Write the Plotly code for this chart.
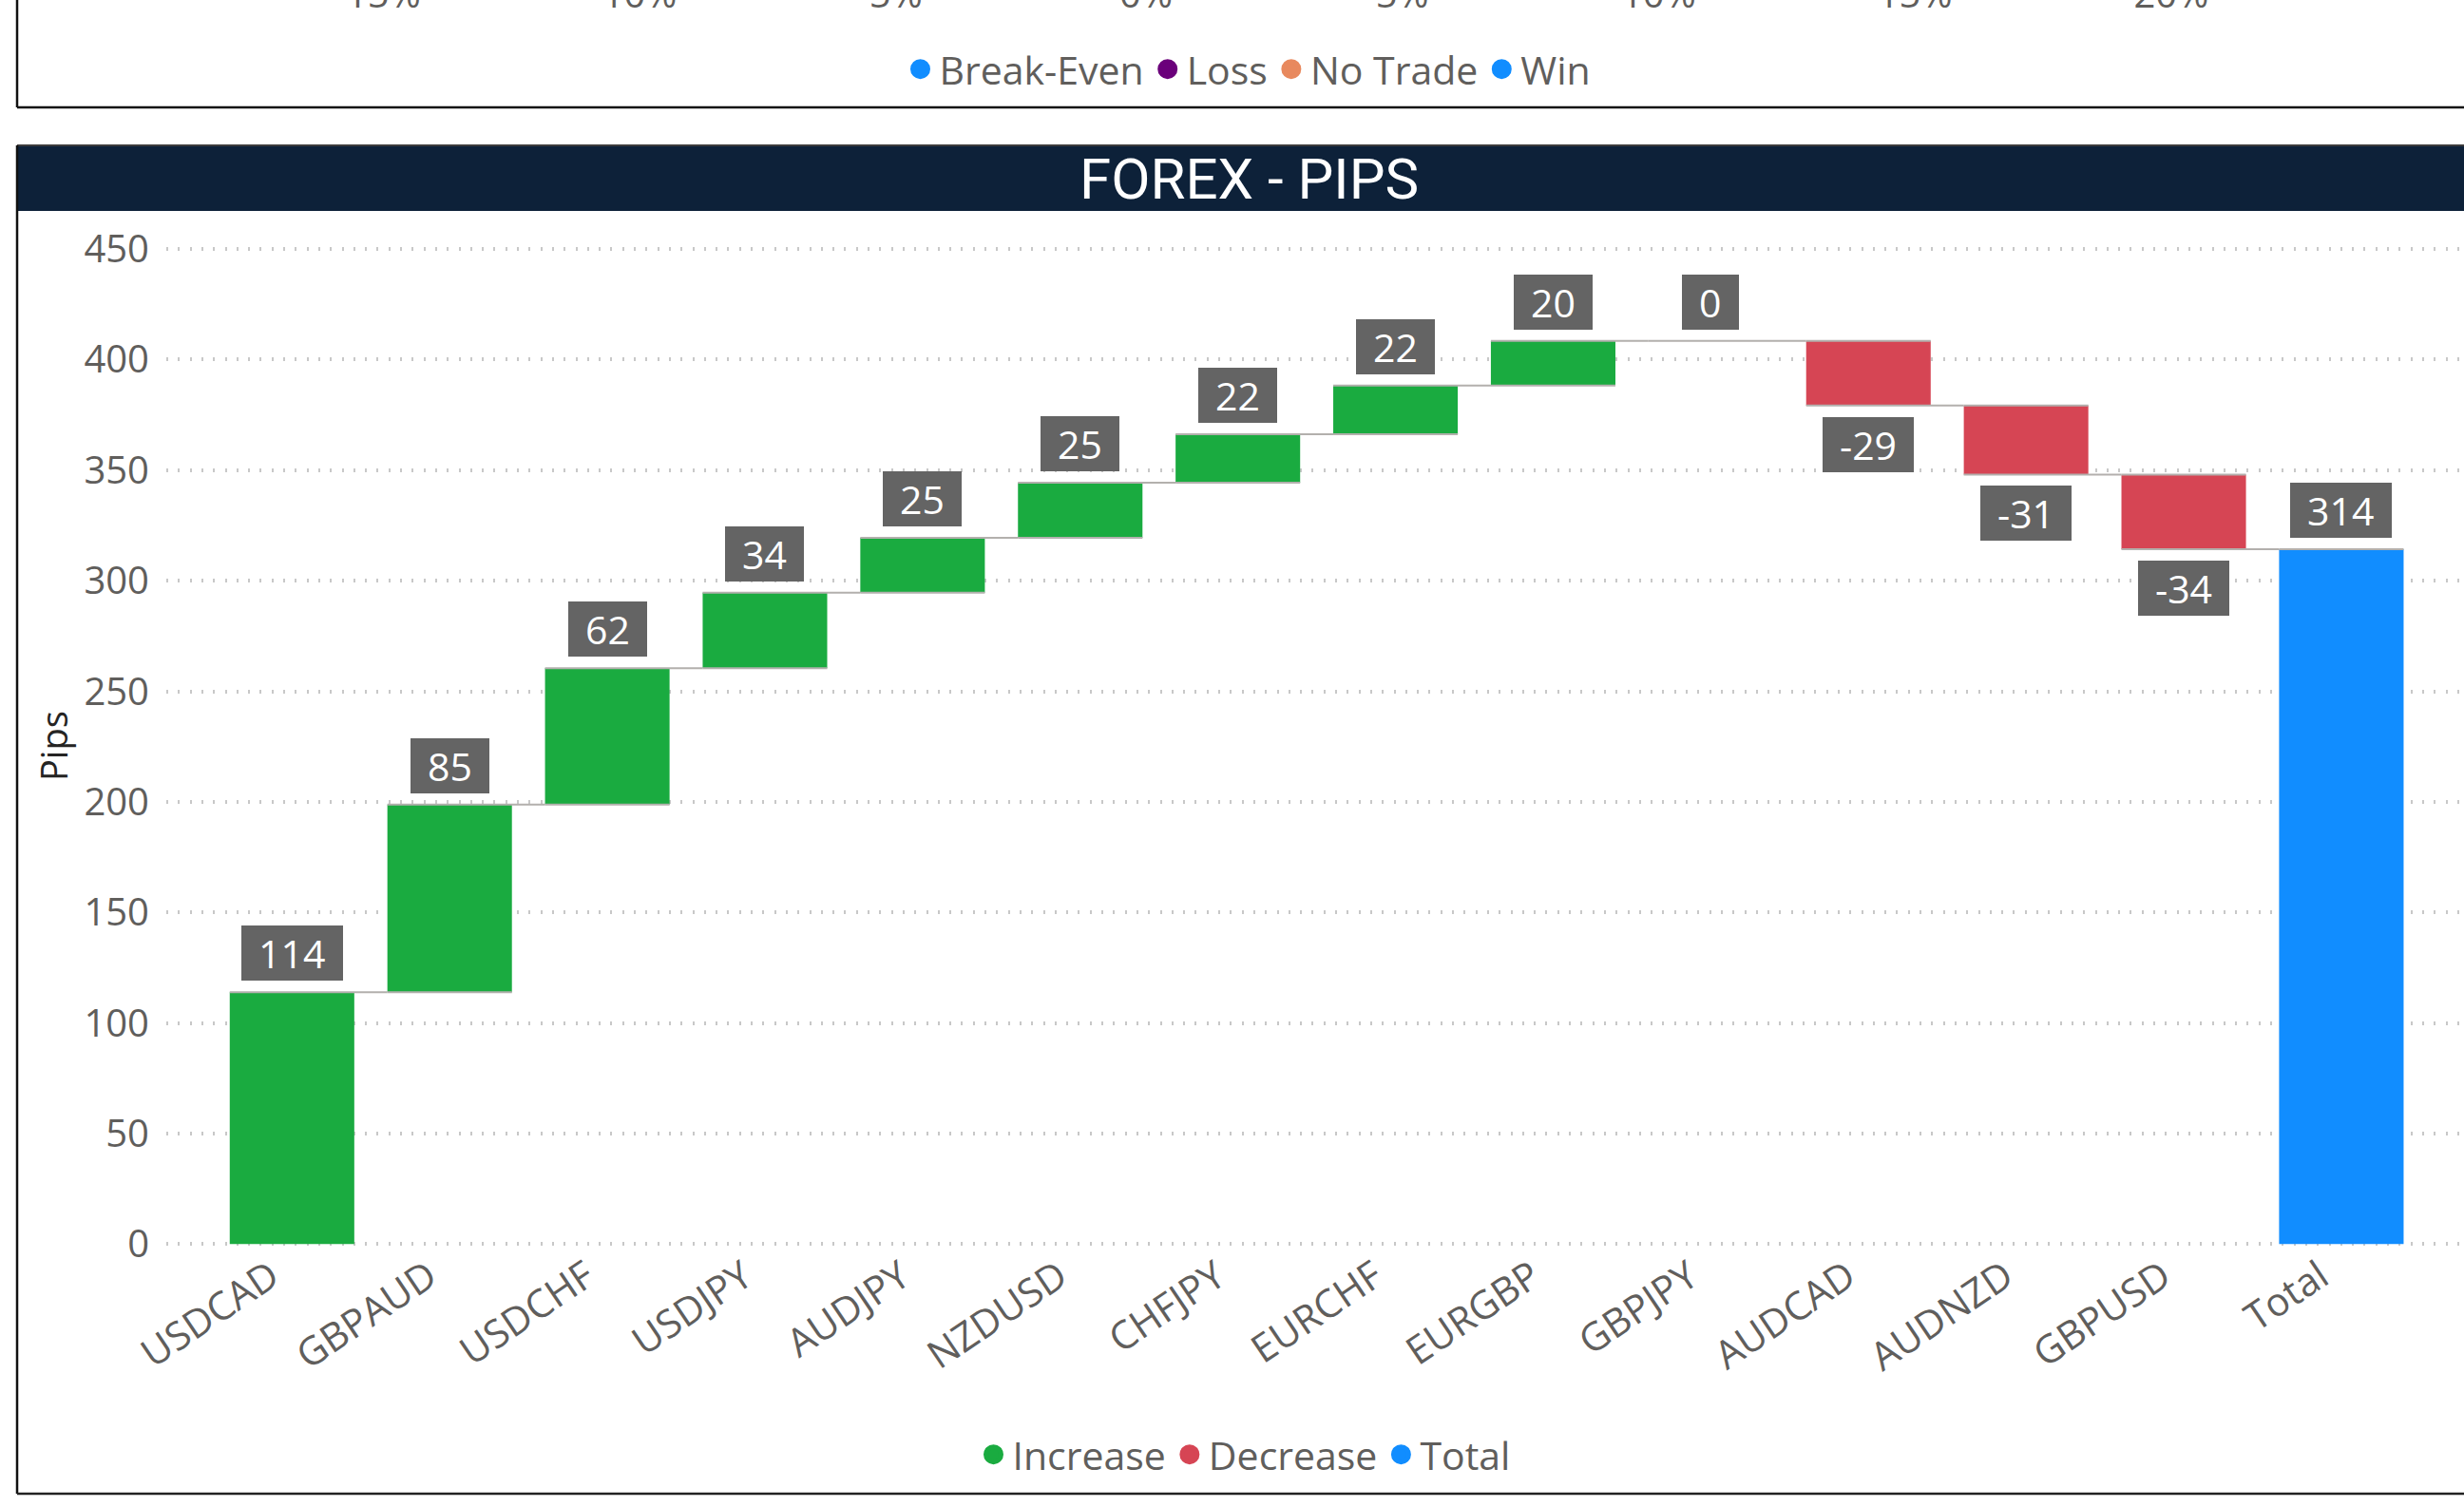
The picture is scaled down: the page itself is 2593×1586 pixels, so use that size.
import plotly.graph_objects as go

# waterfall data: pips won/lost per pair
pairs = ["USDCAD", "GBPAUD", "USDCHF", "USDJPY", "AUDJPY", "NZDUSD", "CHFJPY",
         "EURCHF", "EURGBP", "GBPJPY", "AUDCAD", "AUDNZD", "GBPUSD", "Total"]
pips = [113.9, 84.9, 61.6, 34.2, 24.8, 24.9, 22.0, 22.0, 20.2, 0.0, -29.3, -31.2, -33.8, 314.2]
measures = ["relative"] * 13 + ["total"]
y_ticks = [0, 50, 100, 150, 200, 250, 300, 350, 400, 450]

wf_names = ["Increase", "Decrease", "Total"]
wf_colors = ["#1AAB40", "#D64554", "#118DFF"]

# upper panel (cut off by the screenshot): legend and percent ticks
outcome_names = ["Break-Even", "Loss", "No Trade", "Win"]
outcome_colors = ["#118DFF", "#6B007B", "#E8895E", "#118DFF"]
pct_ticks = [-15, -10, -5, 0, 5, 10, 15, 20, 25]
pct_labels = ["-15%", "-10%", "-5%", "0%", "5%", "10%", "15%", "20%", "25%"]

W, H = 2593, 1586
FONT = "Open Sans"
GREY = "#605E5C"


def px(x):
    return x / W


def py(y):
    return 1 - y / H


fig = go.Figure()

fig.add_trace(go.Waterfall(
    x=pairs, y=pips, measure=measures,
    increasing=dict(marker=dict(color=wf_colors[0])),
    decreasing=dict(marker=dict(color=wf_colors[1])),
    totals=dict(marker=dict(color=wf_colors[2])),
    connector=dict(mode="spanning", line=dict(color="#B3B0AD", width=2)),
    textinfo="none", showlegend=False,
))

# legend entries (circle markers like Power BI)
for name, col in zip(wf_names, wf_colors):
    fig.add_trace(go.Scatter(x=[None], y=[None], mode="markers", name=name,
                             marker=dict(color=col, size=16, line=dict(color=col, width=5)),
                             legend="legend"))
for name, col in zip(outcome_names, outcome_colors):
    fig.add_trace(go.Scatter(x=[None], y=[None], mode="markers", name=name,
                             xaxis="x2", yaxis="y2",
                             marker=dict(color=col, size=16, line=dict(color=col, width=5)),
                             legend="legend2"))

# data labels in dark boxes
running = 0
for p, v, m in zip(pairs, pips, measures):
    if m != "total":
        running += v
    lab = str(round(v))
    up = v >= 0
    w = 23.5 * sum(c.isdigit() for c in lab) + 13 * lab.count("-") + 36
    fig.add_annotation(x=p, y=running, xref="x", yref="y", text=lab, showarrow=False,
                       yanchor="bottom" if up else "top", yshift=12 if up else -12,
                       bgcolor="#646464", borderpad=0, borderwidth=0, width=w, height=58,
                       font=dict(family=FONT, size=41, color="white"))

# header + titles
fig.add_annotation(x=px(1314), y=py(188), xref="paper", yref="paper", text="FOREX - PIPS",
                   showarrow=False, xanchor="center", yanchor="middle",
                   font=dict(family="Roboto", size=60, color="white"))
fig.add_annotation(x=px(56), y=py(785), xref="paper", yref="paper", text="Pips",
                   showarrow=False, textangle=-90, xanchor="center", yanchor="middle",
                   font=dict(family=FONT, size=38, color="#252423"))

shapes = [
    dict(type="rect", xref="paper", yref="paper", x0=px(18), x1=1.01, y0=py(222), y1=py(153),
         fillcolor="#0D2139", line=dict(width=0), layer="below"),
    dict(type="line", xref="paper", yref="paper", x0=px(18), x1=1.01, y0=py(153), y1=py(153),
         line=dict(color="#3C3C3C", width=2)),
    dict(type="line", xref="paper", yref="paper", x0=px(18), x1=px(18), y0=py(153), y1=py(1572),
         line=dict(color="#111111", width=2.5)),
    dict(type="line", xref="paper", yref="paper", x0=px(18), x1=1.01, y0=py(1572), y1=py(1572),
         line=dict(color="#222222", width=2.5)),
    dict(type="line", xref="paper", yref="paper", x0=px(18), x1=px(18), y0=py(-5), y1=py(113),
         line=dict(color="#111111", width=2.5)),
    dict(type="line", xref="paper", yref="paper", x0=px(18), x1=1.01, y0=py(113), y1=py(113),
         line=dict(color="#111111", width=2.5)),
]

fig.update_layout(
    width=W, height=H,
    margin=dict(l=0, r=0, t=0, b=0, autoexpand=False),
    paper_bgcolor="white", plot_bgcolor="white",
    font=dict(family=FONT, color=GREY),
    waterfallgap=0.21,
    shapes=shapes,
    xaxis=dict(domain=[px(175), 1], range=[-0.7975, 13.778], tickangle=-34,
               tickfont=dict(size=41, color=GREY), showgrid=False, zeroline=False,
               showline=False, ticks="", ticklabelshift=-22, ticklabelstandoff=-8,
               automargin=False),
    yaxis=dict(domain=[py(1318.6), py(227.2)], range=[-4, 465], tickvals=y_ticks,
               tickfont=dict(size=40, color=GREY), showgrid=True, gridcolor="#C8C8C8",
               gridwidth=4, griddash="2px,10.3px", zeroline=False, showline=False,
               ticks="", ticklabelstandoff=17, automargin=False),
    xaxis2=dict(domain=[px(175), 1], range=[-19.114, 25.714], anchor="free", position=1,
                side="bottom", tickvals=pct_ticks, ticktext=pct_labels,
                tickfont=dict(size=40, color=GREY), showgrid=False, zeroline=False,
                showline=False, ticks="", ticklabelstandoff=-33, automargin=False),
    yaxis2=dict(domain=[0.995, 1], anchor="x2", visible=False, automargin=False),
    legend=dict(orientation="h", x=px(1310), xanchor="center", y=py(1531), yanchor="middle",
                font=dict(size=41, color=GREY), bgcolor="rgba(0,0,0,0)"),
    legend2=dict(orientation="h", x=px(1314), xanchor="center", y=py(73), yanchor="middle",
                 font=dict(size=41, color=GREY), bgcolor="rgba(0,0,0,0)"),
    hovermode="closest",
)

fig.write_html("out.html", config={"displayModeBar": False},
               post_script="document.body.style.margin='0';document.body.style.overflow='hidden';")
